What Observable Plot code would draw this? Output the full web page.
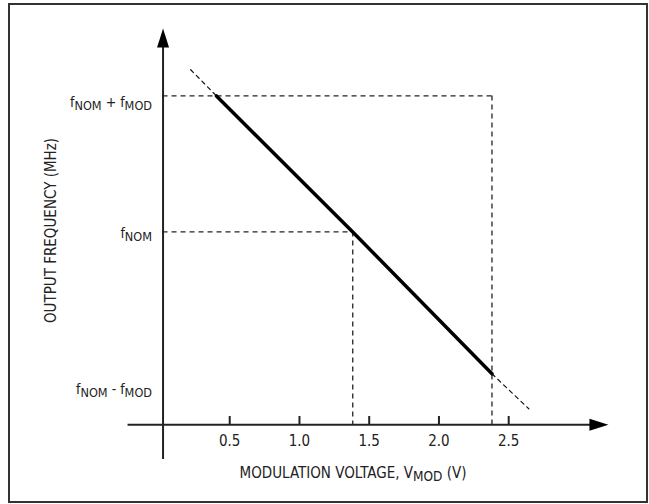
<!DOCTYPE html>
<html>
<head>
<meta charset="utf-8">
<script src="https://cdn.jsdelivr.net/npm/d3@7"></script>
<script src="https://cdn.jsdelivr.net/npm/@observablehq/plot@0.6"></script>
<style>
  html, body { margin: 0; padding: 0; background: #fff; }
  #chart svg { display: block; }
</style>
</head>
<body>
<div id="chart"></div>
<script>
// ---- data ----
const xTicks = [0.5, 1.0, 1.5, 2.0, 2.5];
const xTickLabels = ["0.5", "1.0", "1.5", "2.0", "2.5"];
const yLabels = ["f_NOM + f_MOD", "f_NOM", "f_NOM - f_MOD"];
const yLabelPos = [0.95, -0.01, -1.16];
// transfer line (solid part), in volts and normalized frequency (fNOM = 0, fNOM+fMOD = 1)
const lineV = [0.405, 1.382, 2.38];
const lineF = [1, 0, -1.043];
// dashed extensions beyond the usable range
const extTopV = [0.22, 0.405];
const extTopF = [1.193, 1];
const extBotV = [2.38, 2.644];
const extBotF = [-1.043, -1.30];
// dashed guides
const guideLevelsF = [1, 0];            // fNOM+fMOD, fNOM
const guideLevelsV = [2.38, 1.382];     // matching voltages
// axes
const xAxisF = -1.417;                  // where the x axis crosses
const yAxisV = 0.022;                   // where the y axis crosses
const xAxisExtent = [-0.229, 3.215];
const yAxisExtent = [-1.673, 1.496];
const xTitle = "MODULATION VOLTAGE, V_MOD (V)";
const yTitle = "OUTPUT FREQUENCY (MHz)";

const font = "'DejaVu Sans Condensed', 'Liberation Sans Narrow', sans-serif";
const ink = "#222";

const arrowHead = {
  draw(ctx) {
    ctx.moveTo(0, 0);
    ctx.lineTo(-6, 19);
    ctx.lineTo(6, 19);
    ctx.closePath();
  }
};

const linePts = lineV.map((v, i) => ({v, f: lineF[i]}));
const extTop = extTopV.map((v, i) => ({v, f: extTopF[i]}));
const extBot = extBotV.map((v, i) => ({v, f: extBotF[i]}));
const guides = guideLevelsF.map((f, i) => ({f, v: guideLevelsV[i]}));
const ticks = xTicks.map((v, i) => ({v, label: xTickLabels[i]}));
const ylabs = yLabels.map((t, i) => ({t, f: yLabelPos[i]}));

const plot = Plot.plot({
  width: 649,
  height: 504,
  marginLeft: 120,
  marginRight: 20,
  marginTop: 0,
  marginBottom: 20,
  style: {fontFamily: font, fontSize: "14px", color: ink, background: "#fff", overflow: "visible"},
  x: {domain: [-0.283, 3.366], axis: null},
  y: {domain: [-1.857, 1.702], axis: null},
  marks: [
    // dashed guides: horizontal from y axis to the line, vertical down to x axis
    Plot.ruleY(guides, {y: "f", x1: yAxisV, x2: "v", stroke: "#222", strokeWidth: 1.3, strokeDasharray: "5,4"}),
    Plot.ruleX(guides, {x: "v", y1: "f", y2: xAxisF, stroke: "#222", strokeWidth: 1.3, strokeDasharray: "5,4"}),
    // dashed extensions
    Plot.line(extTop, {x: "v", y: "f", stroke: "#111", strokeWidth: 1.2, strokeDasharray: "4,4"}),
    Plot.line(extBot, {x: "v", y: "f", stroke: "#111", strokeWidth: 1.2, strokeDasharray: "4,4"}),
    // main transfer line
    Plot.line(linePts, {x: "v", y: "f", stroke: "#000", strokeWidth: 3.5}),
    // axes
    Plot.ruleY([xAxisF], {x1: xAxisExtent[0], x2: xAxisExtent[1] - 0.08, stroke: ink, strokeWidth: 2}),
    Plot.ruleX([yAxisV], {y1: yAxisExtent[0], y2: yAxisExtent[1] - 0.08, stroke: ink, strokeWidth: 2}),
    Plot.dot([{v: xAxisExtent[1], f: xAxisF}], {x: "v", y: "f", symbol: arrowHead, fill: "#000", stroke: "none", rotate: 90}),
    Plot.dot([{v: yAxisV, f: yAxisExtent[1]}], {x: "v", y: "f", symbol: arrowHead, fill: "#000", stroke: "none"}),
    // x ticks and labels
    Plot.ruleX(ticks, {x: "v", y1: () => xAxisF, y2: () => xAxisF + 0.06, stroke: ink, strokeWidth: 2}),
    Plot.text(ticks, {x: "v", y: () => xAxisF, text: "label", dy: 17, fill: ink, fontSize: 15}),
    // y labels
    Plot.text(ylabs, {x: () => yAxisV, y: "f", text: "t", textAnchor: "end", dx: -11, fill: ink, fontSize: 14}),
    // axis titles
    Plot.text([xTitle], {frameAnchor: "bottom", text: d => d, textAnchor: "middle", lineAnchor: "middle", dx: -22, dy: -11, fill: ink, fontSize: 15}),
    Plot.text([yTitle], {frameAnchor: "left", text: d => d, textAnchor: "middle", lineAnchor: "middle", rotate: -90, dx: -69, dy: -12, fill: ink, fontSize: 15})
  ]
});

// subscripts: "_XXX" becomes a lowered tspan
const NS = "http://www.w3.org/2000/svg";
plot.querySelectorAll("text").forEach(t => {
  const s = t.textContent;
  if (!s.includes("_")) return;
  const parts = s.split(/_([A-Z]+)/);
  t.textContent = "";
  let lowered = false;
  parts.forEach((p, i) => {
    if (p === "") return;
    const ts = document.createElementNS(NS, "tspan");
    ts.textContent = p;
    if (i % 2 === 1) { ts.setAttribute("dy", "3"); ts.setAttribute("font-size", "0.9em"); lowered = true; }
    else if (lowered) { ts.setAttribute("dy", "-3"); lowered = false; }
    t.appendChild(ts);
  });
});

// outer frame of the figure
d3.select(plot).append("rect")
  .attr("x", 9).attr("y", 4).attr("width", 638).attr("height", 498)
  .attr("fill", "none").attr("stroke", "#333").attr("stroke-width", 2);

document.getElementById("chart").appendChild(plot);
</script>
</body>
</html>
